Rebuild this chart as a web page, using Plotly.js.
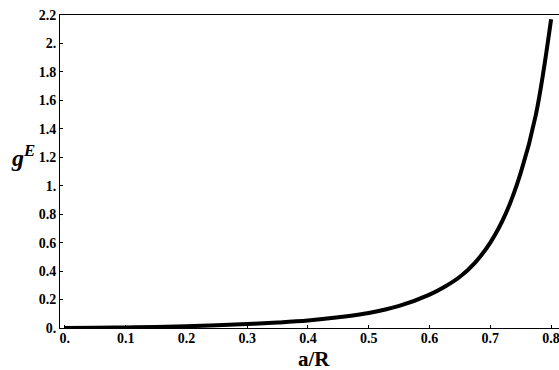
<!DOCTYPE html>
<html>
<head>
<meta charset="utf-8">
<script src="https://cdn.plot.ly/plotly-3.0.1.min.js"></script>
<style>html,body{margin:0;padding:0;background:#fff;}#chart{width:559px;height:370px;}</style>
</head>
<body>
<div id="chart"></div>
<script>
// Data
const aOverR = [0, 0.05, 0.1, 0.15, 0.2, 0.25, 0.3, 0.35, 0.4, 0.45, 0.5, 0.55, 0.6, 0.625, 0.65, 0.675, 0.7, 0.725, 0.75, 0.775, 0.8];
const gE     = [0, 0.001, 0.004, 0.007, 0.012, 0.019, 0.028, 0.038, 0.052, 0.075, 0.105, 0.155, 0.235, 0.29, 0.36, 0.46, 0.60, 0.80, 1.09, 1.50, 2.17];
const xTickVals = [0, 0.1, 0.2, 0.3, 0.4, 0.5, 0.6, 0.7, 0.8];
const xTickText = ["0.", "0.1", "0.2", "0.3", "0.4", "0.5", "0.6", "0.7", "0.8"];
const yTickVals = [0, 0.2, 0.4, 0.6, 0.8, 1, 1.2, 1.4, 1.6, 1.8, 2, 2.2];
const yTickText = ["0.", "0.2", "0.4", "0.6", "0.8", "1.", "1.2", "1.4", "1.6", "1.8", "2.", "2.2"];
const xTitle = "a/R";

const serif = "Liberation Serif";
const bold = t => "<b>" + t + "</b>";
const trace = {
  x: aOverR, y: gE, type: "scatter", mode: "lines",
  line: {color: "#000", width: 4, shape: "spline", smoothing: 1},
  cliponaxis: false,
  hoverinfo: "none"
};
const layout = {
  width: 559, height: 370,
  margin: {l: 60, r: 0, t: 15, b: 42},
  paper_bgcolor: "#fff", plot_bgcolor: "#fff",
  showlegend: false,
  font: {family: serif, color: "#000"},
  xaxis: {
    range: [-0.008, 0.813], showgrid: false, zeroline: false,
    showline: true, linecolor: "#000", linewidth: 1, mirror: true,
    ticks: "inside", ticklen: 3, tickcolor: "#000",
    tickvals: xTickVals, ticktext: xTickText.map(bold),
    ticklabeloverflow: "allow", ticklabelstandoff: -3,
    tickfont: {family: serif, size: 14, color: "#000"}
  },
  yaxis: {
    range: [0, 2.2], showgrid: false, zeroline: false,
    showline: true, linecolor: "#000", linewidth: 1, mirror: false,
    ticks: "inside", ticklen: 3, tickcolor: "#000",
    tickvals: yTickVals, ticktext: yTickText.map(bold),
    ticklabeloverflow: "allow",
    tickfont: {family: serif, size: 14, color: "#000"}
  },
  annotations: [{
    xref: "paper", yref: "paper", x: -0.075, y: 0.55, xanchor: "center", yanchor: "middle",
    showarrow: false,
    text: "<b><i>g</i><sup><i>E</i></sup></b>",
    font: {family: serif, size: 24, color: "#000"}
  }, {
    xref: "paper", yref: "paper", x: 0.51, y: -0.099, xanchor: "center", yanchor: "middle",
    showarrow: false, borderpad: 0,
    text: bold(xTitle),
    font: {family: serif, size: 21, color: "#000"}
  }]
};
Plotly.newPlot("chart", [trace], layout, {staticPlot: true});
</script>
</body>
</html>
